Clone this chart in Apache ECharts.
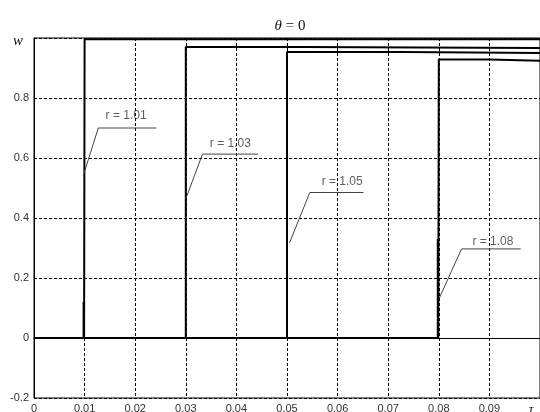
<!DOCTYPE html>
<html>
<head>
<meta charset="utf-8">
<script src="https://cdn.jsdelivr.net/npm/echarts@6/dist/echarts.min.js"></script>
<style>
  html, body { margin: 0; padding: 0; background: #fff; }
  #chart { width: 540px; height: 412px; }
</style>
</head>
<body>
<div id="chart"></div>
<script>
// tick labels (last one of each axis is the axis symbol)
const xTicks = ["0", "0.01", "0.02", "0.03", "0.04", "0.05", "0.06", "0.07", "0.08", "0.09", "τ"];
const yTicks = ["-0.2", "0", "0.2", "0.4", "0.6", "0.8", "w"];

// step responses, [tau, w]
const r101 = [[0, 0], [0.0098, 0], [0.0098, 0.12], [0.0099, 0], [0.01, 0], [0.01, 0.996], [0.1, 0.996]];
const r103 = [[0, 0], [0.03, 0], [0.03, 0.970], [0.0533, 0.970], [0.0535, 0.967], [0.1, 0.967]];
const r105 = [[0, 0], [0.05, 0], [0.05, 0.953], [0.0729, 0.953], [0.0731, 0.950], [0.1, 0.950]];
const r108 = [[0, 0], [0.0798, 0], [0.0798, 0.33], [0.0799, 0], [0.08, 0], [0.08, 0.928], [0.09, 0.928], [0.0902, 0.924], [0.1, 0.924]];

// annotations: leader line (start, corner, end) and label centre
const labels = ["r = 1.01", "r = 1.03", "r = 1.05", "r = 1.08"];
const leaders = [
  [[0.00974, 0.541], [0.0127, 0.700], [0.0242, 0.700]],
  [[0.0300, 0.464], [0.0333, 0.613], [0.0443, 0.613]],
  [[0.0505, 0.317], [0.0545, 0.485], [0.0651, 0.485]],
  [[0.0801, 0.133], [0.0845, 0.297], [0.0962, 0.297]]
];
const labelPos = [[0.0182, 0.742], [0.0388, 0.648], [0.0609, 0.522], [0.0907, 0.322]];

const chart = echarts.init(document.getElementById("chart"), null, { renderer: "canvas" });

const curve = (data) => ({
  type: "line",
  data: data,
  symbol: "none",
  silent: true,
  lineStyle: { color: "#000", width: 2 },
  z: 3
});

const series = [curve(r101), curve(r103), curve(r105), curve(r108)];

leaders.forEach((pts) => {
  series.push({
    type: "line",
    data: pts,
    symbol: "none",
    silent: true,
    lineStyle: { color: "#444", width: 1 },
    z: 4
  });
});

series.push({
  type: "scatter",
  symbolSize: 0,
  silent: true,
  data: labelPos.map((p, i) => ({ value: p, name: labels[i] })),
  label: {
    show: true,
    position: "inside",
    formatter: (p) => p.name,
    fontFamily: "Liberation Sans, Arial, sans-serif",
    fontSize: 12,
    color: "#333"
  },
  z: 5
});

chart.setOption({
  animation: false,
  backgroundColor: "#fff",
  title: {
    text: "{i|θ} = 0",
    left: 285,
    textAlign: "center",
    top: 14,
    textStyle: {
      fontFamily: "Liberation Serif, Times New Roman, serif",
      fontSize: 15,
      fontWeight: "normal",
      color: "#111",
      rich: {
        i: { fontFamily: "Liberation Serif, serif", fontStyle: "italic", fontSize: 15, color: "#111" }
      }
    }
  },
  grid: {
    left: 34, top: 38, width: 506, height: 360,
    containLabel: false, outerBoundsMode: "none",
    show: true, borderColor: "#000", borderWidth: 1
  },
  xAxis: {
    type: "value",
    min: 0, max: 0.1, interval: 0.01,
    axisLine: { show: true, lineStyle: { color: "#000", width: 1 } },
    axisTick: { show: false },
    splitLine: { show: true, lineStyle: { color: "#000", width: 1, type: [3, 2] } },
    axisLabel: {
      showMinLabel: true, showMaxLabel: true,
      margin: 5,
      fontFamily: "Liberation Sans, Arial, sans-serif",
      fontSize: 11,
      color: "#333",
      formatter: (v) => {
        const k = Math.round(v / 0.01);
        return k === 10 ? "{t|" + xTicks[k] + "}" : xTicks[k];
      },
      rich: {
        t: { fontFamily: "Liberation Serif, serif", fontStyle: "italic", fontSize: 13, color: "#111", padding: [0, 18, 0, 0] }
      }
    }
  },
  yAxis: {
    type: "value",
    min: -0.2, max: 1, interval: 0.2,
    axisLine: { show: true, lineStyle: { color: "#000", width: 1 } },
    axisTick: { show: false },
    splitLine: { show: true, lineStyle: { color: "#000", width: 1, type: [3, 2] } },
    axisLabel: {
      showMinLabel: true, showMaxLabel: true,
      margin: 5,
      fontFamily: "Liberation Sans, Arial, sans-serif",
      fontSize: 11,
      color: "#333",
      formatter: (v) => {
        const k = Math.round((v + 0.2) / 0.2);
        return k === 6 ? "{w|" + yTicks[k] + "}" : yTicks[k];
      },
      rich: {
        w: { fontFamily: "Liberation Serif, serif", fontStyle: "italic", fontSize: 15, color: "#111", padding: [7, 6, 0, 0] }
      }
    }
  },
  series: series
});
</script>
</body>
</html>
